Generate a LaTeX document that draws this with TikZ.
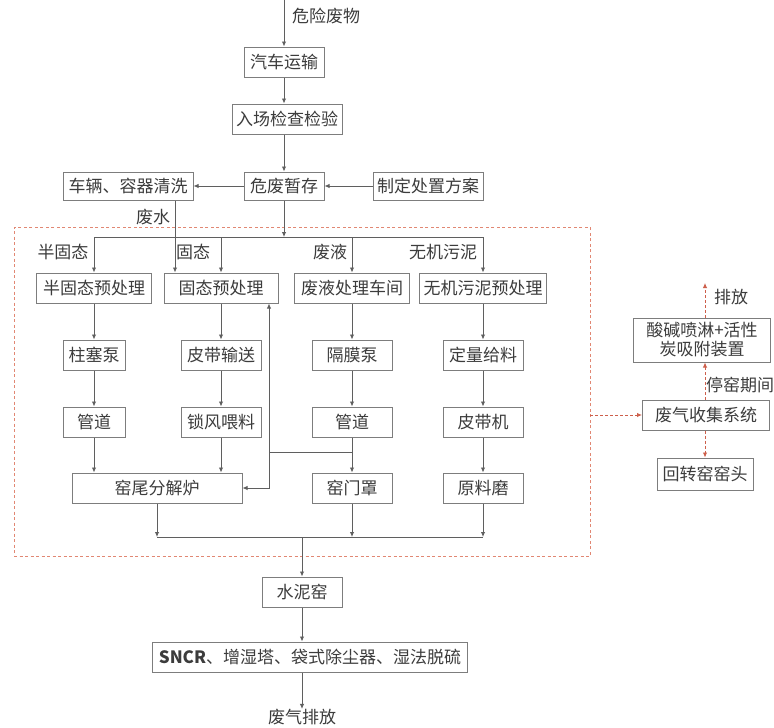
\documentclass[tikz,border=0pt]{standalone}
\usepackage{fontspec}
\setmainfont{Noto Sans CJK SC}
\usetikzlibrary{arrows.meta,calc}
\definecolor{txt}{RGB}{60,60,60}
\definecolor{boxgray}{RGB}{125,125,125}
\definecolor{linegray}{RGB}{95,95,95}
\definecolor{redline}{RGB}{205,95,75}
\definecolor{zonered}{RGB}{225,135,115}
\begin{document}
\begin{tikzpicture}[x=1pt,y=-1pt,
  box/.style={draw=boxgray,line width=1pt,minimum height=30pt,inner sep=0pt,text=txt,font=\fontsize{17}{19}\selectfont},
  lab/.style={text=txt,font=\fontsize{17}{19}\selectfont,inner sep=0pt},
  ln/.style={draw=linegray,line width=0.9pt},
  arr/.style={draw=linegray,line width=0.9pt,-{Latex[length=5pt,width=4.5pt]}},
  rarr/.style={draw=redline,line width=0.9pt,dash pattern=on 3pt off 2pt,-{Latex[length=5pt,width=4.5pt]}},
  zone/.style={draw=zonered,line width=0.9pt,dash pattern=on 3pt off 2.5pt,inner sep=0pt},
]
\useasboundingbox[fill=white] (0,0) rectangle (774,728);

% dashed zone
\node[zone,minimum width=576pt,minimum height=329pt] (zone) at (302,391.5) {};

% top chain
\coordinate (top) at (284,0);
\node[lab] (src) at (326,16) {危险废物};
\node[box,minimum width=80pt] (car) at (284,62) {汽车运输};
\node[box,minimum width=110pt] (chk) at (287,119) {入场检查检验};
\node[box,minimum width=80pt,minimum height=28pt] (store) at (284,186) {危废暂存};
\node[box,minimum width=130pt,minimum height=28pt] (wash) at (128,186) {车辆、容器清洗};
\node[box,minimum width=110pt,minimum height=28pt] (plan) at (428,186) {制定处置方案};
\node[lab] (ww) at (153,217) {废水};

\draw[arr] (top) -- (car.north);
\draw[arr] (car.south) -- (car.south |- chk.north);
\draw[arr] (store.north |- chk.south) -- (store.north);
\draw[arr] (store.west) -- (wash.east);
\draw[arr] (plan.west) -- (store.east);

% distribution bus
\coordinate (bus) at (284,237);
\draw[arr] (store.south) -- (bus);

% branch labels
\node[lab] (la) at (63,252) {半固态};
\node[lab] (lb) at (193,252) {固态};
\node[lab] (lc) at (330,252) {废液};
\node[lab] (ld) at (443,252) {无机污泥};

% row 1
\node[box,minimum width=115pt] (sa) at (94,288) {半固态预处理};
\node[box,minimum width=114pt] (sb) at (221,288) {固态预处理};
\node[box,minimum width=115pt] (sc) at (352,288) {废液处理车间};
\node[box,minimum width=127pt] (sd) at (483,288) {无机污泥预处理};
% row 2
\node[box,minimum width=62pt] (pa) at (94,355) {柱塞泵};
\node[box,minimum width=80pt] (pb) at (221,355) {皮带输送};
\node[box,minimum width=80pt] (pc) at (352,355) {隔膜泵};
\node[box,minimum width=80pt] (pd) at (483,355) {定量给料};
% row 3
\node[box,minimum width=62pt] (ga) at (94,422) {管道};
\node[box,minimum width=80pt] (gb) at (221,422) {锁风喂料};
\node[box,minimum width=80pt] (gc) at (352,422) {管道};
\node[box,minimum width=80pt] (gd) at (483,422) {皮带机};
% row 4
\node[box,minimum width=170pt] (kt) at (157,488) {窑尾分解炉};
\node[box,minimum width=80pt] (hood) at (352,488) {窑门罩};
\node[box,minimum width=80pt] (mill) at (483,488) {原料磨};

\draw[ln] (sa.north |- bus) -- (sd.north |- bus);
\draw[arr] (sa.north |- bus) -- (sa.north);
\draw[arr] (sb.north |- bus) -- (sb.north);
\draw[arr] (sc.north |- bus) -- (sc.north);
\draw[arr] (sd.north |- bus) -- (sd.north);
\draw[arr] ([xshift=47pt]wash.south) -- ([xshift=47pt]wash.south |- sb.north);

\draw[arr] (sa) -- (pa);
\draw[arr] (sb) -- (pb);
\draw[arr] (sc) -- (pc);
\draw[arr] (sd) -- (pd);
\draw[arr] (pa) -- (ga);
\draw[arr] (pb) -- (gb);
\draw[arr] (pc) -- (gc);
\draw[arr] (pd) -- (gd);
\draw[arr] (ga.south) -- (ga.south |- kt.north);
\draw[arr] (gb.south) -- (gb.south |- kt.north);
\draw[arr] (gc) -- (hood);
\draw[arr] (gd) -- (mill);

% side branch
\coordinate (j1) at (352,452);
\coordinate (j2) at (269,452);
\draw[ln] (j1) -- (j2);
\draw[arr] (j2) -- (j2 |- sb.south);
\draw[arr] (j2) |- (kt.east);

% bottom bus
\coordinate (bb) at (302,537);
\draw[ln] (kt.south |- bb) -- (mill.south |- bb);
\draw[arr] (kt.south) -- (kt.south |- bb);
\draw[arr] (hood.south) -- (hood.south |- bb);
\draw[arr] (mill.south) -- (mill.south |- bb);

\node[box,minimum width=80pt] (cement) at (302,592) {水泥窑};
\node[box,minimum width=315pt] (sncr) at (310,657) {\textbf{SNCR}、增湿塔、袋式除尘器、湿法脱硫};
\node[lab] (exh) at (302,717) {废气排放};
\draw[arr] (bb) -- (cement.north);
\draw[arr] (cement.south) -- (cement.south |- sncr.north);
\draw[arr] (cement.south |- sncr.south) -- (exh.north);

% right side
\coordinate (out) at (705,283);
\node[box,minimum width=137pt,minimum height=44pt,align=center] (acid) at (702,340) {酸碱喷淋+活性\\炭吸附装置};
\node[box,minimum width=127pt] (gas) at (706,415) {废气收集系统};
\node[box,minimum width=96pt,minimum height=32pt] (head) at (705,474) {回转窑窑头};
\node[lab] (outl) at (731,297) {排放};
\node[lab] (stop) at (740,385) {停窑期间};
\draw[rarr] (out |- acid.north) -- (out);
\draw[rarr] (out |- gas.north) -- (out |- acid.south);
\draw[rarr] (out |- gas.south) -- (out |- head.north);
\draw[rarr] (zone.east |- gas.west) -- (gas.west);
\end{tikzpicture}
\end{document}
